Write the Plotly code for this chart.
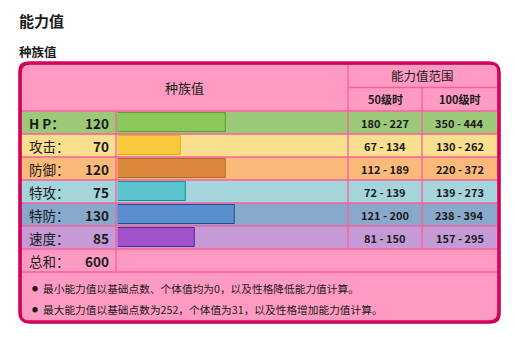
import plotly.graph_objects as go

# ---------------- data ----------------
stat_labels = ["H P：", "攻击：", "防御：", "特攻：", "特防：", "速度："]
stat_values = [120, 70, 120, 75, 130, 85]
range_lv50 = ["180 - 227", "67 - 134", "112 - 189", "72 - 139", "121 - 200", "81 - 150"]
range_lv100 = ["350 - 444", "130 - 262", "220 - 372", "139 - 273", "238 - 394", "157 - 295"]
total_label = "总和："
total_value = 600
max_stat = 255
notes = [
    "最小能力值以基础点数、个体值均为0，以及性格降低能力值计算。",
    "最大能力值以基础点数为252，个体值为31，以及性格增加能力值计算。",
]
row_bg = ["#9CC978", "#FADF8F", "#FBB97A", "#A4D5DA", "#89A9CC", "#C59BD7"]
bar_fill = ["#8BC759", "#F8C93B", "#D98939", "#5BC4CF", "#5A8FCF", "#A152CC"]
bar_line = ["#5C9A3A", "#DDAE2C", "#B3692F", "#1E8894", "#1F4F8F", "#5E2A80"]

W, H = 515, 337
FONT = "Noto Sans CJK SC"
PINK = "#FF9BC2"
GRID = "#FF5C9E"
BORDER = "#DC005E"
TXT = "#1A1A1A"

# layout geometry (pixels)
L, R = 21, 497
T = 64
HDR1 = 87.5
ROW0 = 111
RH = 23
n = len(stat_values)
ROWS_END = ROW0 + RH * n
TOTAL_END = ROWS_END + RH
C1, C2, C3 = 116, 348, 422

fig = go.Figure()

fig.add_trace(go.Bar(
    x=stat_values, y=stat_labels, orientation="h",
    xaxis="x2", yaxis="y2", width=0.83,
    marker=dict(color=bar_fill, line=dict(color=bar_line, width=1)),
    hoverinfo="skip", showlegend=False,
))

def rounded(x0, y0, x1, y1, r):
    return (f"M {x0+r},{y0} L {x1-r},{y0} Q {x1},{y0} {x1},{y0+r} "
            f"L {x1},{y1-r} Q {x1},{y1} {x1-r},{y1} L {x0+r},{y1} "
            f"Q {x0},{y1} {x0},{y1-r} L {x0},{y0+r} Q {x0},{y0} {x0+r},{y0} Z")

shapes = []
# container fill
shapes.append(dict(type="path", path=rounded(19.5, 62.5, 498.5, 321.5, 9), xref="x", yref="y",
                   fillcolor=PINK, line=dict(width=0), layer="below"))
# row backgrounds
for i, c in enumerate(row_bg):
    shapes.append(dict(type="rect", xref="x", yref="y", x0=L, x1=R,
                       y0=ROW0 + RH * i, y1=ROW0 + RH * (i + 1),
                       fillcolor=c, line=dict(width=0), layer="below"))
def hline(y, x0=L, x1=R):
    shapes.append(dict(type="line", xref="x", yref="y", x0=x0, x1=x1, y0=y, y1=y,
                       line=dict(color=GRID, width=1.3), layer="below"))
def vline(x, y0, y1):
    shapes.append(dict(type="line", xref="x", yref="y", x0=x, x1=x, y0=y0, y1=y1,
                       line=dict(color=GRID, width=1.3), layer="below"))
hline(HDR1, C2, R)
for k in range(n + 2):
    hline(ROW0 + RH * k)
vline(C1, ROW0, TOTAL_END)
vline(C2, T, ROWS_END)
vline(C3, HDR1, ROWS_END)
# border shadow + border
shapes.append(dict(type="path", path=rounded(20.5, 63.5, 499.5, 322.5, 9), xref="x", yref="y",
                   line=dict(color="#B00048", width=2.5)))
shapes.append(dict(type="path", path=rounded(19.5, 62.5, 498.5, 321.5, 9), xref="x", yref="y",
                   line=dict(color=BORDER, width=2.6)))

ann = []
def txt(x, y, s, size, bold=False, xanchor="left", yref="y", color=TXT):
    ann.append(dict(x=x, y=y, xref="x", yref=yref, text=s, showarrow=False,
                    xanchor=xanchor, yanchor="middle",
                    font=dict(family=FONT, size=size, color=color,
                              weight="bold" if bold else "normal")))

txt(17, 20, "能力值", 15, True)
txt(17, 51, "种族值", 12.5, True)
txt((L + C2) / 2, (T + ROW0) / 2, "种族值", 13, False, "center")
txt((C2 + R) / 2, (T + HDR1) / 2, "能力值范围", 12.5, False, "center")
txt((C2 + C3) / 2, (HDR1 + ROW0) / 2, "50级时", 11, True, "center")
txt((C3 + R) / 2, (HDR1 + ROW0) / 2, "100级时", 11, True, "center")

for i, lab in enumerate(stat_labels):
    txt(27, lab, lab, 13.5, i == 0, "left", "y2")
    txt(111, lab, str(stat_values[i]), 13.5, True, "right", "y2")
    txt((C2 + C3) / 2, lab, range_lv50[i], 11, True, "center", "y2")
    txt((C3 + R) / 2, lab, range_lv100[i], 11, True, "center", "y2")

txt(27, ROWS_END + RH / 2, total_label, 13.5)
txt(111, ROWS_END + RH / 2, str(total_value), 13.5, True, "right")

for k, note in enumerate(notes):
    yy = 288 + 21 * k
    txt(30, yy, "●", 6)
    txt(41, yy, note, 10.7)

fig.update_layout(
    width=W, height=H, margin=dict(l=0, r=0, t=0, b=0),
    paper_bgcolor="white", plot_bgcolor="rgba(0,0,0,0)",
    shapes=shapes, annotations=ann, showlegend=False,
    xaxis=dict(domain=[0, 1], range=[0, W], visible=False, fixedrange=True),
    yaxis=dict(domain=[0, 1], range=[H, 0], visible=False, fixedrange=True),
    xaxis2=dict(domain=[117.8 / W, 348.2 / W], range=[0, max_stat], anchor="y2",
                visible=False, fixedrange=True),
    yaxis2=dict(domain=[(H - ROWS_END) / H, (H - ROW0) / H], anchor="x2",
                type="category", categoryorder="array", categoryarray=stat_labels,
                range=[n - 0.5, -0.5], visible=False, fixedrange=True),
    bargap=0,
)

fig.write_html("out.html", config=dict(displayModeBar=False))
